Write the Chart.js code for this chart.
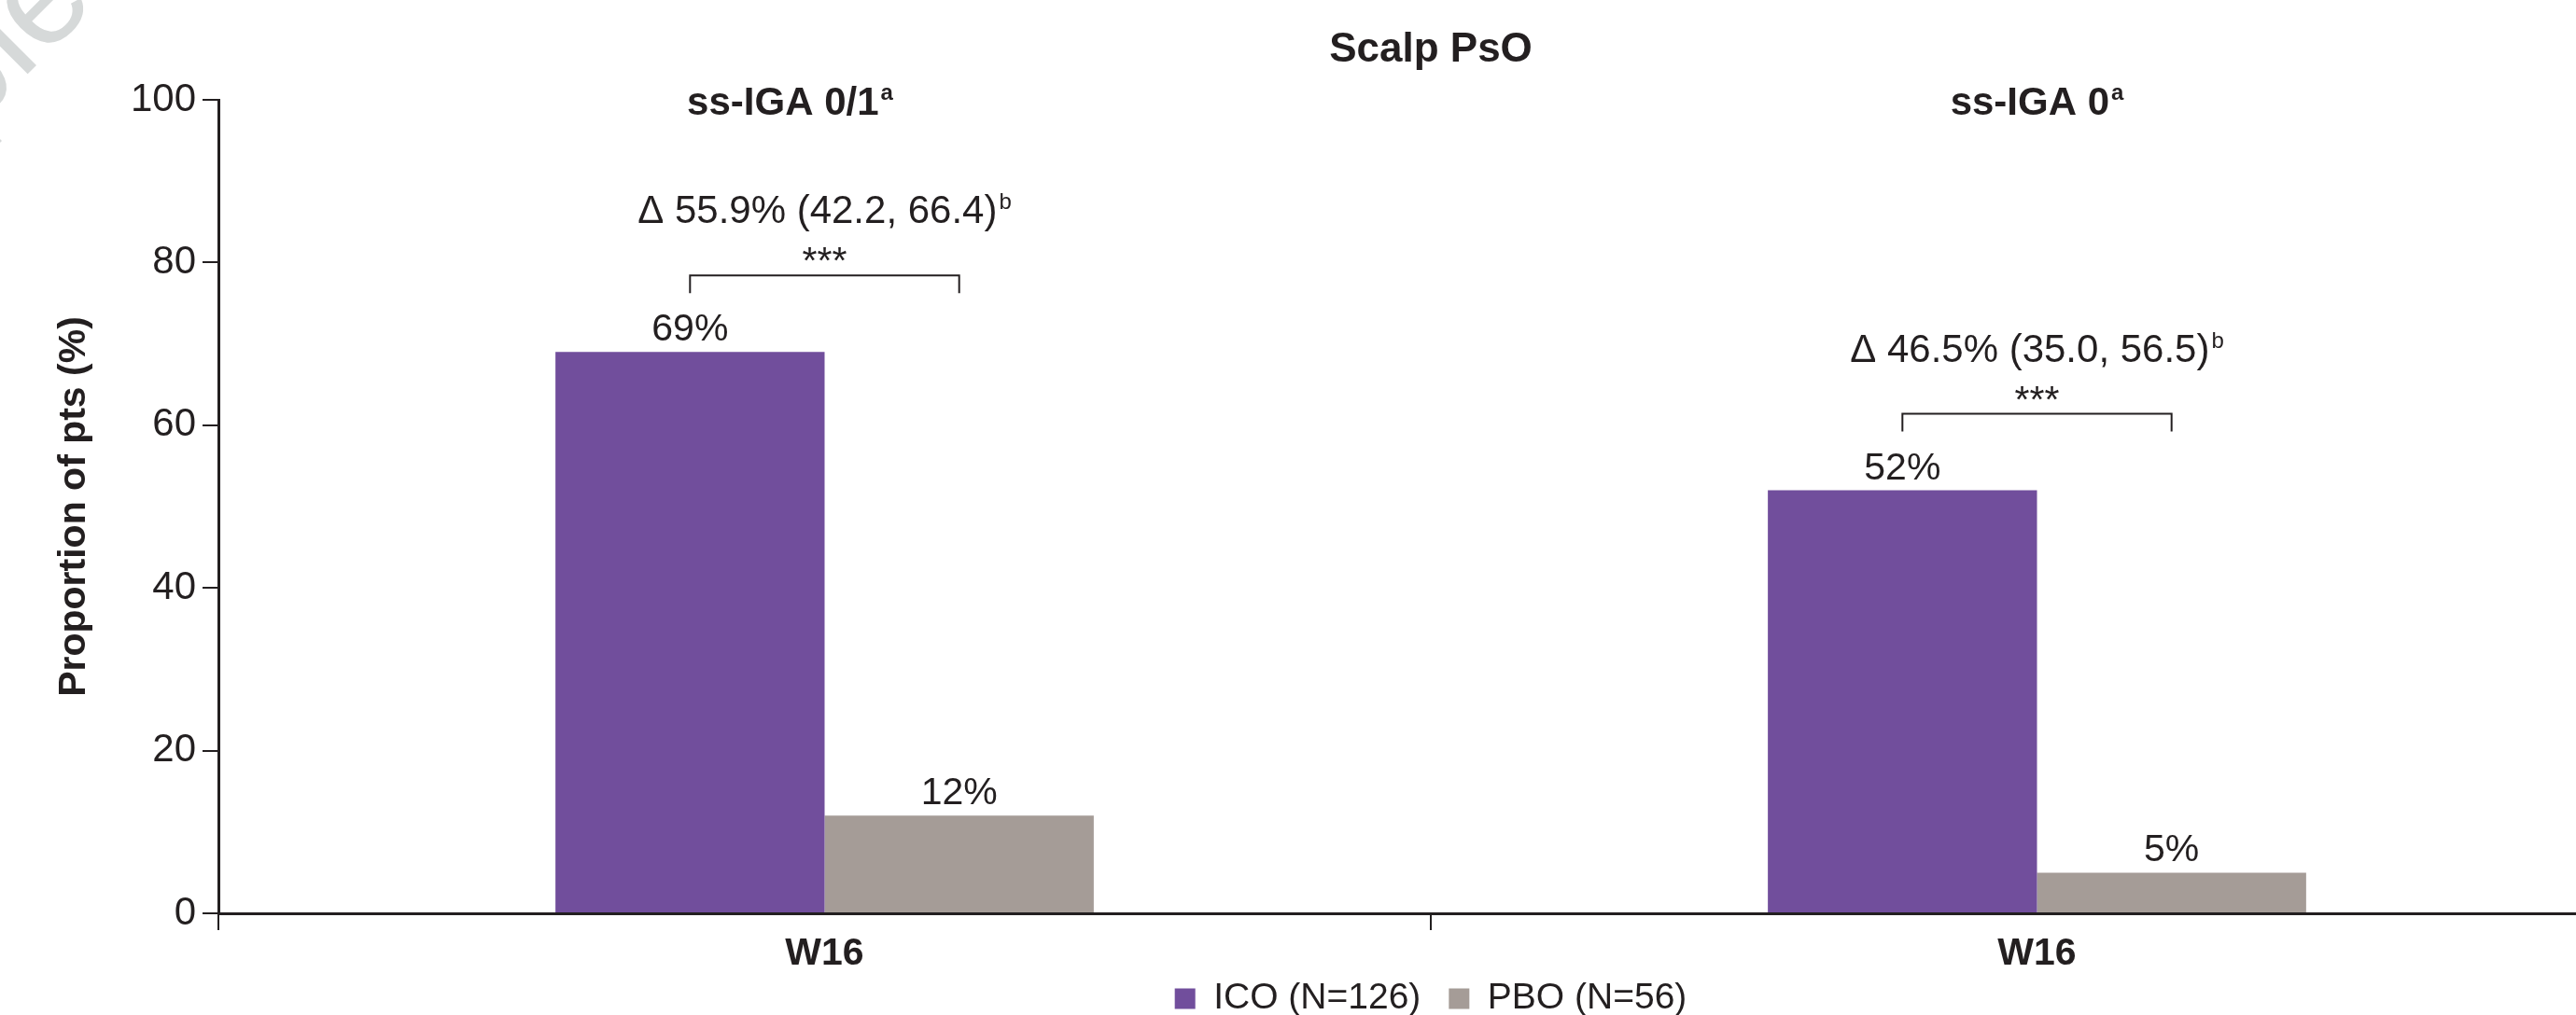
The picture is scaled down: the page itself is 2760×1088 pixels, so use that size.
<!DOCTYPE html>
<html>
<head>
<meta charset="utf-8">
<script src="https://cdn.jsdelivr.net/npm/chart.js@4/dist/chart.umd.min.js"></script>
<style>
  html, body { margin: 0; padding: 0; background: #ffffff; overflow: hidden; width: 2760px; height: 1088px; }
  #wrap { position: absolute; left: 0; top: 0; width: 2840px; height: 1130px; }
  canvas { display: block; }
</style>
</head>
<body>
<div id="wrap"><canvas id="c" width="2840" height="1130"></canvas></div>
<script>
// ---- data ----
const chartTitle = 'Scalp PsO';
const categories = ['W16', 'W16'];
const groupHeaders = ['ss-IGA 0/1', 'ss-IGA 0'];
const headerNotes = ['a', 'a'];
const seriesNames = ['ICO (N=126)', 'PBO (N=56)'];
const icoValues = [69, 52];
const pboValues = [12, 5];
const deltaLabels = ['\u0394 55.9% (42.2, 66.4)', '\u0394 46.5% (35.0, 56.5)'];
const deltaNotes = ['b', 'b'];
const significance = ['***', '***'];
const yTicks = [0, 20, 40, 60, 80, 100];
const yAxisTitle = 'Proportion of pts (%)';
const watermark = 'Sample';

// ---- styling ----
const INK = '#231f20';
const PURPLE = '#714e9c';
const TAUPE = '#a59c97';
const FONT = '"Liberation Sans", Arial, Helvetica, sans-serif';

// text followed by a raised footnote letter, centred as a whole on cx
function textWithNote(ctx, text, note, cx, baseline, font, noteFont, rise) {
  ctx.font = font;
  const w1 = ctx.measureText(text).width;
  ctx.font = noteFont;
  const w2 = ctx.measureText(note).width;
  const gap = 2;
  const x0 = cx - (w1 + gap + w2) / 2;
  ctx.textAlign = 'left';
  ctx.textBaseline = 'alphabetic';
  ctx.font = font;
  ctx.fillText(text, x0, baseline);
  ctx.font = noteFont;
  ctx.fillText(note, x0 + w1 + gap, baseline - rise);
}

const annotate = {
  id: 'annotate',
  afterLayout(chart) {
    // tuck the legend row up under the category labels
    const lg = chart.legend;
    if (lg) { lg.top -= 22; lg.bottom -= 22; }
  },
  beforeDraw(chart) {
    const ctx = chart.ctx;
    ctx.save();
    ctx.translate(105, 4);
    ctx.rotate(-Math.PI / 4);
    ctx.font = `150px ${FONT}`;
    ctx.fillStyle = '#d6d9d9';
    ctx.textAlign = 'right';
    ctx.textBaseline = 'alphabetic';
    ctx.fillText(watermark, 0, 0);
    ctx.restore();
  },
  afterDatasetsDraw(chart) {
    const { ctx, chartArea, scales: { x } } = chart;
    const metas = [chart.getDatasetMeta(0), chart.getDatasetMeta(1)];
    ctx.save();
    ctx.fillStyle = INK;
    ctx.strokeStyle = INK;

    // chart title over the plot area
    ctx.font = `bold 44px ${FONT}`;
    ctx.textAlign = 'center';
    ctx.textBaseline = 'alphabetic';
    ctx.fillText(chartTitle, (chartArea.left + chartArea.right) / 2, chartArea.top - 41);

    // value labels above bars
    metas.forEach((meta, di) => {
      const vals = chart.data.datasets[di].data;
      meta.data.forEach((bar, i) => {
        ctx.font = `41px ${FONT}`;
        ctx.textAlign = 'center';
        ctx.textBaseline = 'alphabetic';
        ctx.fillText(vals[i] + '%', bar.x, bar.y - 12);
      });
    });

    categories.forEach((c, i) => {
      const a = metas[0].data[i];
      const b = metas[1].data[i];
      const top = Math.min(a.y, b.y);
      const cx = x.getPixelForValue(i);

      // panel header
      textWithNote(ctx, groupHeaders[i], headerNotes[i], cx + (i === 0 ? -37 : 0), chartArea.top + 16,
        `bold 42px ${FONT}`, `bold 24px ${FONT}`, 16);

      // comparison bracket between bar centres
      const yb = top - 82, yl = top - 63;
      ctx.lineWidth = 2;
      ctx.beginPath();
      ctx.moveTo(a.x, yl);
      ctx.lineTo(a.x, yb);
      ctx.lineTo(b.x, yb);
      ctx.lineTo(b.x, yl);
      ctx.stroke();

      // significance stars
      ctx.font = `41px ${FONT}`;
      ctx.textAlign = 'center';
      ctx.textBaseline = 'alphabetic';
      ctx.fillText(significance[i], cx, top - 84);

      // difference with CI
      textWithNote(ctx, deltaLabels[i], deltaNotes[i], cx, top - 138,
        `42px ${FONT}`, `24px ${FONT}`, 15);
    });
    ctx.restore();
  }
};

new Chart(document.getElementById('c'), {
  type: 'bar',
  data: {
    labels: categories,
    datasets: [
      { label: seriesNames[0], data: icoValues, backgroundColor: PURPLE, borderWidth: 0,
        barPercentage: 1, categoryPercentage: 0.444 },
      { label: seriesNames[1], data: pboValues, backgroundColor: TAUPE, borderWidth: 0,
        barPercentage: 1, categoryPercentage: 0.444 }
    ]
  },
  options: {
    responsive: false,
    animation: false,
    devicePixelRatio: 1,
    layout: { padding: { left: 0, right: 8, top: 107, bottom: 8 } },
    plugins: {
      title: { display: false },
      tooltip: { enabled: false },
      legend: {
        position: 'bottom',
        fullSize: false,
        labels: {
          boxWidth: 22, boxHeight: 22, padding: 30, color: INK,
          font: { family: FONT, size: 39 }
        }
      }
    },
    scales: {
      x: {
        offset: true,
        grid: { offset: true, drawOnChartArea: false, drawTicks: true, tickLength: 18, color: INK, lineWidth: 2 },
        border: { display: true, color: INK, width: 3 },
        ticks: { color: INK, maxRotation: 0, padding: 5, font: { family: FONT, size: 41, weight: 'bold', lineHeight: 1 } },
        afterFit(s) { s.height = 64; }
      },
      y: {
        min: 0, max: 100,
        afterBuildTicks(s) { s.ticks = yTicks.map(v => ({ value: v })); },
        grid: { drawOnChartArea: false, drawTicks: true, tickLength: 17, color: INK, lineWidth: 2 },
        border: { display: true, color: INK, width: 3 },
        ticks: { color: INK, padding: 7, font: { family: FONT, size: 42 } },
        title: {
          display: true, text: yAxisTitle, color: INK,
          font: { family: FONT, size: 41, weight: 'bold', lineHeight: 1.2 },
          padding: { top: 55, bottom: 0 }
        },
        afterFit(s) { s.width = 234; }
      }
    }
  },
  plugins: [annotate]
});
</script>
</body>
</html>
